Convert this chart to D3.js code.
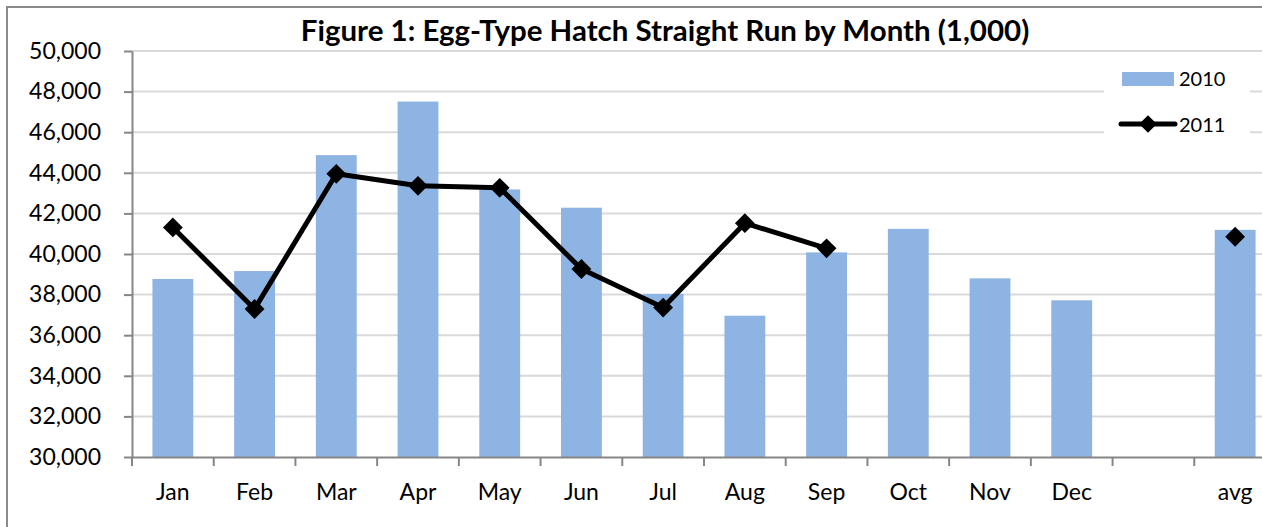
<!DOCTYPE html>
<html>
<head>
<meta charset="utf-8">
<script src="https://cdn.jsdelivr.net/npm/d3@7"></script>
<style>
  body { margin: 0; background: #fff; }
  svg { display: block; font-family: Lato, "Open Sans", sans-serif; }
</style>
</head>
<body>
<div id="chart"></div>
<script>
const months = ["Jan", "Feb", "Mar", "Apr", "May", "Jun", "Jul", "Aug", "Sep", "Oct", "Nov", "Dec", " ", "avg"];
const hatch2010 = [38770, 39160, 44870, 47510, 43180, 42280, 38030, 36960, 40080, 41240, 38800, 37720, null, 41190];
const hatch2011 = [41310, 37290, 43950, 43360, 43260, 39260, 37360, 41520, 40280, null, null, null, null, 40850];
const yTicks = [30000, 32000, 34000, 36000, 38000, 40000, 42000, 44000, 46000, 48000, 50000];
const seriesNames = ["2010", "2011"];

const W = 1262, H = 527;
const margin = {top: 51, left: 132, right: -14, bottom: 70};
const width = W - margin.left - margin.right,
    height = H - margin.top - margin.bottom;

const svg = d3.select("#chart").append("svg")
    .attr("width", W)
    .attr("height", H);

// chart area border
svg.append("rect")
    .attr("x", 7).attr("y", 7)
    .attr("width", W + 20).attr("height", H + 20)
    .attr("fill", "none")
    .attr("stroke", "#8a8a8a")
    .attr("stroke-width", 2);

const g = svg.append("g")
    .attr("transform", "translate(" + margin.left + "," + margin.top + ")");

const x = d3.scaleBand()
    .domain(months)
    .range([0, width])
    .paddingInner(0.5)
    .paddingOuter(0.25);

const y = d3.scaleLinear()
    .domain([30000, 50000])
    .range([height, 0]);

// gridlines
g.append("g")
    .selectAll("line")
    .data(yTicks.slice(1))
    .enter()
    .append("line")
    .attr("x1", 0)
    .attr("x2", width)
    .attr("y1", d => y(d))
    .attr("y2", d => y(d))
    .attr("stroke", "#d9d9d9")
    .attr("stroke-width", 2);

// bars 2010
const barData = months.map((m, i) => ({m: m, v: hatch2010[i]})).filter(d => d.v != null);
g.append("g")
    .selectAll("rect")
    .data(barData)
    .enter()
    .append("rect")
    .attr("x", d => x(d.m))
    .attr("width", x.bandwidth())
    .attr("y", d => y(d.v))
    .attr("height", d => y(30000) - y(d.v))
    .attr("fill", "#8eb4e3");

// y axis
const yAxis = g.append("g")
    .call(d3.axisLeft(y)
        .tickValues(yTicks)
        .tickFormat(d3.format(","))
        .tickSize(8)
        .tickSizeOuter(0)
        .tickPadding(23));
yAxis.select(".domain").attr("stroke", "#868686").attr("stroke-width", 2);
yAxis.selectAll(".tick line").attr("stroke", "#868686").attr("stroke-width", 2);
yAxis.selectAll(".tick text")
    .attr("font-size", 23)
    .attr("font-family", "Lato, sans-serif")
    .attr("fill", "#000");

// x axis
const xAxis = g.append("g")
    .attr("transform", "translate(0," + height + ")")
    .call(d3.axisBottom(x).tickSize(0).tickSizeOuter(0).tickPadding(27));
xAxis.select(".domain").attr("stroke", "#868686").attr("stroke-width", 2);
xAxis.selectAll(".tick text")
    .attr("font-size", 23)
    .attr("font-family", "Lato, sans-serif")
    .attr("fill", "#000");

// category boundary ticks
xAxis.append("g")
    .selectAll("line")
    .data(months)
    .enter()
    .append("line")
    .attr("x1", d => x(d) - x.step() * 0.25)
    .attr("x2", d => x(d) - x.step() * 0.25)
    .attr("y1", 0)
    .attr("y2", 9)
    .attr("stroke", "#868686")
    .attr("stroke-width", 2);

// line 2011
const lineData = months.map((m, i) => ({m: m, v: hatch2011[i]}));
const line = d3.line()
    .defined(d => d.v != null)
    .x(d => x(d.m) + x.bandwidth() / 2)
    .y(d => y(d.v));

g.append("path")
    .datum(lineData)
    .attr("d", line)
    .attr("fill", "none")
    .attr("stroke", "#000")
    .attr("stroke-width", 5)
    .attr("stroke-linejoin", "round");

const diamond = d3.symbol().type(d3.symbolDiamond2).size(250);
g.append("g")
    .selectAll("path")
    .data(lineData.filter(d => d.v != null))
    .enter()
    .append("path")
    .attr("d", diamond)
    .attr("transform", d => "translate(" + (x(d.m) + x.bandwidth() / 2) + "," + y(d.v) + ")")
    .attr("fill", "#000");

// legend
const legend = svg.append("g");
legend.append("rect")
    .attr("x", 1104).attr("y", 58)
    .attr("width", 146).attr("height", 94)
    .attr("fill", "#fff");
legend.append("rect")
    .attr("x", 1122).attr("y", 72)
    .attr("width", 52).attr("height", 14)
    .attr("fill", "#8eb4e3");
legend.append("line")
    .attr("x1", 1121).attr("x2", 1175)
    .attr("y1", 124).attr("y2", 124)
    .attr("stroke", "#000")
    .attr("stroke-width", 5)
    .attr("stroke-linecap", "round");
legend.append("path")
    .attr("d", d3.symbol().type(d3.symbolDiamond2).size(200))
    .attr("transform", "translate(1148,124)")
    .attr("fill", "#000");
legend.selectAll("text")
    .data(seriesNames)
    .enter()
    .append("text")
    .attr("x", 1179)
    .attr("y", (d, i) => 79 + i * 46)
    .attr("dy", "0.35em")
    .attr("font-size", 20)
    .text(d => d);

// title
const title = svg.append("text")
    .attr("x", 665)
    .attr("y", 41)
    .attr("text-anchor", "middle")
    .attr("font-weight", "bold")
    .attr("font-size", 25)
    .text("Figure 1: Egg-Type Hatch Straight Run by Month (1,000)");
const tw = title.node().getComputedTextLength();
title.attr("font-size", 25 * 729 / tw);
</script>
</body>
</html>
